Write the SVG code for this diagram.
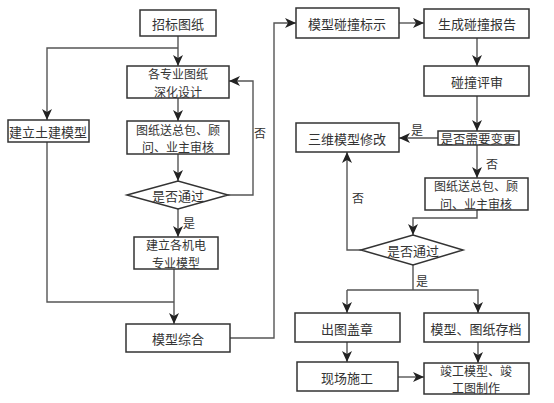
<svg xmlns="http://www.w3.org/2000/svg" width="554" height="403" viewBox="0 0 554 403">
<defs>
<marker id="ah" markerUnits="userSpaceOnUse" markerWidth="12" markerHeight="10" refX="11" refY="5" orient="auto">
<path d="M0,0 L11,5 L0,10 L3,5 z" fill="#222"/>
</marker>
</defs>
<style>
.box{fill:#fff;stroke:#333;stroke-width:1.5}
.t{font-family:"Noto Sans CJK SC","Noto Sans",sans-serif;font-size:13px;fill:#333;text-anchor:middle;dominant-baseline:central}
.t2{font-family:"Noto Sans CJK SC","Noto Sans",sans-serif;font-size:12px;fill:#333;text-anchor:middle;dominant-baseline:central}
.lbl{font-family:"Noto Sans CJK SC","Noto Sans",sans-serif;font-size:12px;fill:#333;text-anchor:middle;dominant-baseline:central}
.c{fill:none;stroke:#555;stroke-width:1.4}
.a{marker-end:url(#ah)}
</style>
<rect width="554" height="403" fill="#fff"/>
<g id="connectors">
<path class="c a" d="M178,36 V66"/>
<path class="c a" d="M178,48 H47 V120"/>
<path class="c a" d="M178,98 V121"/>
<path class="c a" d="M178,154 V181"/>
<path class="c a" d="M228,195 H253 V81 H229"/>
<path class="c a" d="M178,209 V237"/>
<path class="c a" d="M174,269 V324"/>
<path class="c" d="M47,142 V302 H174"/>
<path class="c a" d="M230,338 H274 V23 H296"/>
<path class="c a" d="M399,23 H424"/>
<path class="c a" d="M477,38 V66"/>
<path class="c a" d="M477,96 V131"/>
<path class="c a" d="M438,138 H399"/>
<path class="c a" d="M477,145 V178"/>
<path class="c a" d="M477,210 V218 H413 V235"/>
<path class="c a" d="M361,250 H347 V152"/>
<path class="c" d="M413,265 V290"/>
<path class="c a" d="M347,290 V313"/>
<path class="c a" d="M347,290 H478 V313"/>
<path class="c a" d="M347,342 V362"/>
<path class="c a" d="M478,342 V363"/>
<path class="c a" d="M398,377 H424"/>
<text class="lbl" x="260" y="132">否</text>
<text class="lbl" x="189" y="222">是</text>
<text class="lbl" x="417" y="129">是</text>
<text class="lbl" x="492" y="163">否</text>
<text class="lbl" x="358" y="197">否</text>
<text class="lbl" x="422" y="280">是</text>
</g>
<g id="n1"><rect class="box" x="140" y="10" width="76" height="26"/><text class="t" x="178" y="23">招标图纸</text></g>
<g id="n2"><rect class="box" x="127" y="66" width="102" height="32"/><text class="t2" x="178" y="73.5">各专业图纸<tspan x="178" dy="17">深化设计</tspan></text></g>
<g id="n3"><rect class="box" x="8" y="120" width="81" height="22"/><text class="t" x="48" y="131">建立土建模型</text></g>
<g id="n4"><rect class="box" x="127" y="121" width="102" height="33"/><text class="t2" x="178" y="129">图纸送总包、顾<tspan x="178" dy="17">问、业主审核</tspan></text></g>
<g id="n5"><polygon class="box" points="127,195 178,181 228,195 178,209"/><text class="t" x="178" y="195">是否通过</text></g>
<g id="n6"><rect class="box" x="134" y="237" width="84" height="32"/><text class="t2" x="176" y="244.5">建立各机电<tspan x="176" dy="17">专业模型</tspan></text></g>
<g id="n7"><rect class="box" x="126" y="324" width="104" height="28"/><text class="t" x="178" y="338">模型综合</text></g>
<g id="n8"><rect class="box" x="296" y="8" width="103" height="30"/><text class="t" x="347" y="23">模型碰撞标示</text></g>
<g id="n9"><rect class="box" x="424" y="9" width="105" height="29"/><text class="t" x="477" y="23">生成碰撞报告</text></g>
<g id="n10"><rect class="box" x="424" y="66" width="105" height="30"/><text class="t" x="477" y="81">碰撞评审</text></g>
<g id="n11"><rect class="box" x="438" y="131" width="81" height="14"/><text class="t" x="478" y="138" style="font-size:12.5px">是否需要变更</text></g>
<g id="n12"><rect class="box" x="296" y="123" width="103" height="29"/><text class="t" x="347" y="138">三维模型修改</text></g>
<g id="n13"><rect class="box" x="425" y="178" width="103" height="32"/><text class="t2" x="476" y="185.5">图纸送总包、顾<tspan x="476" dy="17">问、业主审核</tspan></text></g>
<g id="n14"><polygon class="box" points="361,250 413,235 463,250 413,265"/><text class="t" x="413" y="250">是否通过</text></g>
<g id="n15"><rect class="box" x="295" y="313" width="105" height="29"/><text class="t" x="347" y="328">出图盖章</text></g>
<g id="n16"><rect class="box" x="424" y="313" width="105" height="29"/><text class="t" x="476" y="328">模型、图纸存档</text></g>
<g id="n17"><rect class="box" x="297" y="362" width="101" height="29"/><text class="t" x="347" y="377">现场施工</text></g>
<g id="n18"><rect class="box" x="424" y="363" width="105" height="31"/><text class="t2" x="476" y="370">竣工模型、竣<tspan x="476" dy="17">工图制作</tspan></text></g>
</svg>
